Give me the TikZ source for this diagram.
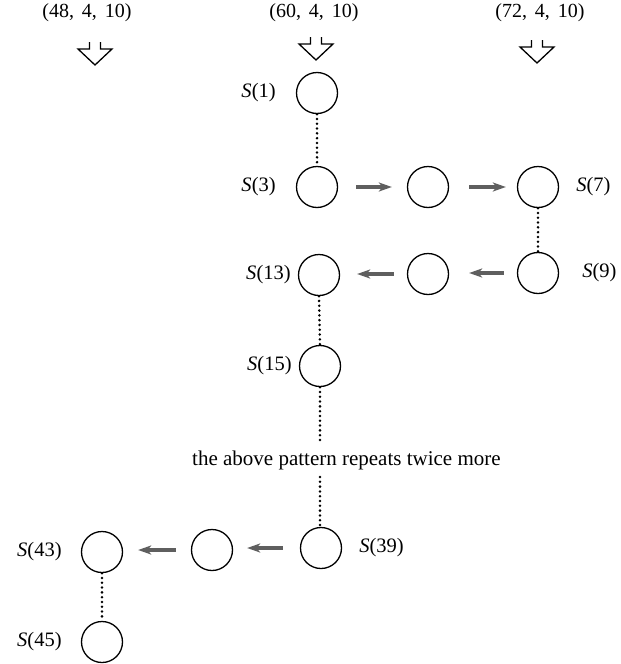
\documentclass[tikz,border=0pt]{standalone}
\usepackage{fontspec}
\setmainfont{Liberation Serif}
\usetikzlibrary{arrows.meta}

\definecolor{shaftgray}{RGB}{95,95,95}

\tikzset{
  state/.style={circle, draw, line width=1.3pt, minimum size=41pt, inner sep=0pt},
  lab/.style={font=\fontsize{20.5}{22}\selectfont, inner sep=0pt},
  tuple/.style={font=\fontsize{20}{22}\selectfont, inner sep=0pt},
  note/.style={font=\fontsize{21}{23}\selectfont, inner sep=0pt},
  chain/.style={line width=2.8pt, line cap=round, dash pattern=on 0pt off 4.8pt},
  flow/.style={line width=3.2pt, shaftgray, -{Stealth[length=13pt, width=9pt, inset=3.5pt]}},
  hollowdown/.pic={
    \draw[line width=1.3pt, line join=miter]
      (-5.5,0) -- (-5.5,7) -- (-17,7) -- (0,23) -- (17,7) -- (5.5,7) -- (5.5,0);
  }
}

\newcommand{\tsep}{\hspace{0.4em}}

\begin{document}
\begin{tikzpicture}[x=1pt, y=-1pt]
  \useasboundingbox (0,0) rectangle (621,664);

  % starting points of the three passes
  \node[tuple] (t48) at (87,13) {(48,\tsep 4,\tsep 10)};
  \node[tuple] (t60) at (314,13) {(60,\tsep 4,\tsep 10)};
  \node[tuple] (t72) at (540,13) {(72,\tsep 4,\tsep 10)};
  \pic at (95,42) {hollowdown};
  \pic at (316,37) {hollowdown};
  \pic at (537,40) {hollowdown};

  % stages
  \node[state] (s1)  at (317,93)  {};
  \node[state] (s3)  at (317,187) {};
  \node[state] (m1)  at (428,187) {};
  \node[state] (s7)  at (538,187) {};
  \node[state] (s9)  at (538,273) {};
  \node[state] (m2)  at (428,274) {};
  \node[state] (s13) at (319,275) {};
  \node[state] (s15) at (320,366) {};
  \node[state] (s39) at (321,548) {};
  \node[state] (m3)  at (212,550) {};
  \node[state] (s43) at (102,552) {};
  \node[state] (s45) at (102,642) {};

  % stage labels
  \node[lab, anchor=east] (l1)  at ([xshift=-20pt]s1.west)  {\textit{S}(1)};
  \node[lab, anchor=east] (l3)  at ([xshift=-20pt]s3.west)  {\textit{S}(3)};
  \node[lab, anchor=west] (l7)  at ([xshift=17pt]s7.east)   {\textit{S}(7)};
  \node[lab, anchor=west] (l9)  at ([xshift=23pt]s9.east)   {\textit{S}(9)};
  \node[lab, anchor=east] (l13) at ([xshift=-7pt]s13.west)  {\textit{S}(13)};
  \node[lab, anchor=east] (l15) at ([xshift=-7pt]s15.west)  {\textit{S}(15)};
  \node[lab, anchor=west] (l39) at ([xshift=17pt]s39.east)  {\textit{S}(39)};
  \node[lab, anchor=east] (l43) at ([xshift=-19pt]s43.west) {\textit{S}(43)};
  \node[lab, anchor=east] (l45) at ([xshift=-19pt]s45.west) {\textit{S}(45)};

  % repetition note
  \node[note, anchor=base west] (rep) at (192,465) {the above pattern repeats twice more};
  \coordinate (gapA) at (320,441);
  \coordinate (gapB) at (320,477);

  % dotted links between stages
  \draw[chain] (s1.south)  -- (s3.north);
  \draw[chain] (s7.south)  -- (s9.north);
  \draw[chain] (s13.south) -- (s15.north);
  \draw[chain] (s15.south) -- (gapA);
  \draw[chain] (gapB) -- (s39.north -| gapB);
  \draw[chain] (s43.south) -- (s45.north);

  % flow arrows
  \draw[flow] ([xshift=18pt]s3.east) -- ([xshift=-15pt]m1.west);
  \draw[flow] ([xshift=20pt]m1.east) -- ([xshift=-11pt]s7.west);
  \draw[flow] ([xshift=-13pt]s9.west) -- ([xshift=20pt]m2.east |- s9.west);
  \draw[flow] ([xshift=-13pt]m2.west) -- ([xshift=17pt]s13.east |- m2.west);
  \draw[flow] ([xshift=-17pt]s39.west) -- ([xshift=14pt]m3.east |- s39.west);
  \draw[flow] ([xshift=-15pt]m3.west) -- ([xshift=15pt]s43.east |- m3.west);
\end{tikzpicture}
\end{document}
